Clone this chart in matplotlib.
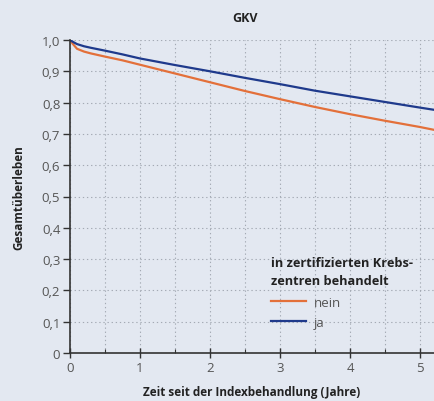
import matplotlib
matplotlib.use('Agg')
import matplotlib.pyplot as plt
import numpy as np

plt.rcParams['font.family'] = ['Open Sans', 'DejaVu Sans']

# survival curves (years, overall survival)
years = [0, 0.05, 0.1, 0.2, 0.3, 0.5, 0.75, 1.0, 1.5, 2.0, 2.5, 3.0, 3.5, 4.0, 4.5, 5.0, 5.2]
nein = [1.0, 0.985, 0.972, 0.963, 0.957, 0.947, 0.935, 0.921, 0.893, 0.865, 0.837, 0.811, 0.786, 0.763, 0.742, 0.722, 0.713]
ja = [1.0, 0.993, 0.987, 0.980, 0.975, 0.966, 0.954, 0.941, 0.920, 0.900, 0.879, 0.859, 0.838, 0.820, 0.802, 0.784, 0.777]

xticks = [0, 1, 2, 3, 4, 5]
yticks = [0, 0.1, 0.2, 0.3, 0.4, 0.5, 0.6, 0.7, 0.8, 0.9, 1.0]
ylabels = ['0', '0,1', '0,2', '0,3', '0,4', '0,5', '0,6', '0,7', '0,8', '0,9', '1,0']

bg = '#e3e8f1'
fig = plt.figure(figsize=(4.34, 4.02), dpi=100, facecolor=bg)
ax = fig.add_axes([70/434, 48/402, 364/434, 313/402])
ax.set_facecolor(bg)

ax.plot(years, nein, color='#e3703a', lw=1.6, label='nein')
ax.plot(years, ja, color='#1f3a8c', lw=1.6, label='ja')

ax.set_xlim(0, 5.2)
ax.set_ylim(0, 1.0)
ax.set_xticks(xticks)
ax.set_xticks(np.arange(0.5, 5.2, 1.0), minor=True)
ax.set_yticks(yticks)
ax.set_yticklabels(ylabels)
ax.grid(True, which='both', color='#a4aab4', ls=(0, (1.2, 2.5)), lw=0.8)
ax.set_axisbelow(True)

for s in ['top', 'right']:
    ax.spines[s].set_visible(False)
for s in ['left', 'bottom']:
    ax.spines[s].set_color('#333333')
    ax.spines[s].set_linewidth(1.2)
ax.spines['left'].set_zorder(5)

ax.tick_params(axis='x', which='major', direction='inout', length=7, width=1.0,
               color='#333333', labelcolor='#555555', labelsize=9.5, pad=2)
ax.tick_params(axis='x', which='minor', direction='in', length=3, width=0.8,
               color='#333333')
ax.tick_params(axis='y', direction='out', length=5, width=1.0,
               color='#333333', labelcolor='#555555', labelsize=9.5, pad=2)

ax.set_xlabel('Zeit seit der Indexbehandlung (Jahre)', fontsize=8.5,
              fontweight='bold', color='#222222', labelpad=8)
ax.set_ylabel('Gesamtüberleben', fontsize=8.5, fontweight='bold',
              color='#222222', labelpad=12)
fig.text(245/434, 1 - 18/402, 'GKV', ha='center', va='center',
         fontsize=9, fontweight='bold', color='#222222')

leg = ax.legend(title='in zertifizierten Krebs-\nzentren behandelt',
                loc='upper left', bbox_to_anchor=(0.535, 0.33),
                frameon=False, fontsize=9.5, handlelength=2.6,
                handletextpad=0.6, labelspacing=0.55, borderpad=0)
leg.get_title().set_fontweight('bold')
leg.get_title().set_fontsize(9.2)
leg.get_title().set_linespacing(1.5)
leg.get_title().set_color('#222222')
leg._legend_box.align = 'left'
leg._legend_box.sep = 6
for t in leg.get_texts():
    t.set_color('#555555')

fig.savefig('out.png', dpi=100, facecolor=bg)
